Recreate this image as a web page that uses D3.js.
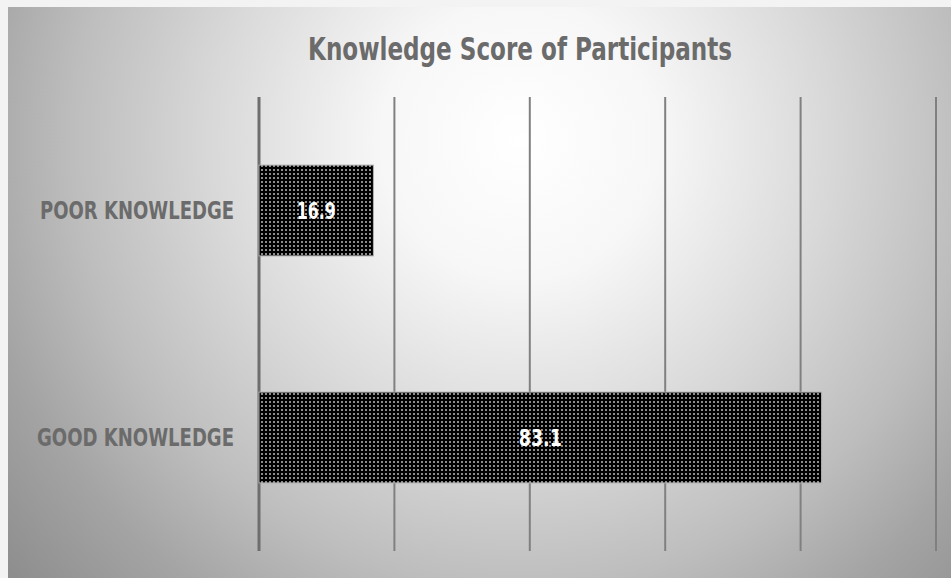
<!DOCTYPE html>
<html>
<head>
<meta charset="utf-8">
<title>Knowledge Score of Participants</title>
<script src="https://cdn.jsdelivr.net/npm/d3@7"></script>
<style>
body { margin: 0; background: #f3f3f3; }
text { font-family: "Liberation Sans Narrow", "DejaVu Sans Condensed", "Roboto", sans-serif; font-weight: bold; }
</style>
</head>
<body>
<script>
  var categories = ["POOR KNOWLEDGE", "GOOD KNOWLEDGE"];
  var scores = [16.9, 83.1];
  var xTicks = [0, 20, 40, 60, 80, 100];
  var title = "Knowledge Score of Participants";

  var width = 951, height = 578;

  var svg = d3.select("body").append("svg")
    .attr("width", width).attr("height", height)
    .style("display", "block");

  var defs = svg.append("defs");

  // background: radial grey gradient, light near the title
  var grad = defs.append("radialGradient")
    .attr("id", "bg")
    .attr("gradientUnits", "userSpaceOnUse")
    .attr("cx", 520).attr("cy", 140).attr("r", 690);
  [[0, "#ffffff"], [0.2, "#f7f7f7"], [0.45, "#d8d8d8"], [0.65, "#bdbdbd"], [0.8, "#a4a4a4"], [1, "#8a8a8a"]]
    .forEach(function(s) {
      grad.append("stop").attr("offset", s[0]).attr("stop-color", s[1]);
    });

  // dotted fill for bars
  var pat = defs.append("pattern")
    .attr("id", "dots")
    .attr("patternUnits", "userSpaceOnUse")
    .attr("width", 4).attr("height", 4);
  pat.append("rect").attr("width", 4).attr("height", 4).attr("fill", "#000");
  pat.append("rect").attr("x", 1).attr("y", 1).attr("width", 2).attr("height", 2).attr("fill", "#8c8c8c");

  svg.append("rect")
    .attr("x", 8).attr("y", 7)
    .attr("width", width - 8).attr("height", height - 7)
    .attr("fill", "url(#bg)");

  var x = d3.scaleLinear().domain([0, 100]).range([259, 936]);
  var y = d3.scaleBand().domain(categories).range([97, 551])
    .paddingInner(0.6).paddingOuter(0.3);

  // gridlines
  svg.append("g").selectAll("line")
    .data(xTicks)
    .enter().append("line")
    .attr("x1", function(d){ return x(d); })
    .attr("x2", function(d){ return x(d); })
    .attr("y1", 97).attr("y2", 551)
    .attr("stroke", function(d){ return d === 0 ? "#6e6e6e" : "#808080"; })
    .attr("stroke-width", function(d){ return d === 0 ? 3 : 2; });

  // bars
  svg.append("g").selectAll("rect")
    .data(scores)
    .enter().append("rect")
    .attr("x", x(0))
    .attr("y", function(d, i){ return y(categories[i]); })
    .attr("width", function(d){ return x(d) - x(0); })
    .attr("height", y.bandwidth())
    .attr("fill", "url(#dots)")
    .attr("stroke", "#b0b0b0")
    .attr("stroke-width", 1);

  // value labels
  svg.append("g").selectAll("text")
    .data(scores)
    .enter().append("text")
    .attr("x", function(d){ return (x(0) + x(d)) / 2; })
    .attr("y", function(d, i){ return y(categories[i]) + y.bandwidth() / 2 + 8; })
    .attr("text-anchor", "middle")
    .attr("fill", "#fff")
    .attr("font-size", 23)
    .attr("textLength", function(d, i){ return i === 0 ? 39 : 43; })
    .attr("lengthAdjust", "spacingAndGlyphs")
    .text(function(d){ return d.toFixed(1); });

  // category labels
  svg.append("g").selectAll("text")
    .data(categories)
    .enter().append("text")
    .attr("x", 234)
    .attr("y", function(d){ return y(d) + y.bandwidth() / 2 + 8; })
    .attr("text-anchor", "end")
    .attr("fill", "#6b6b6b")
    .attr("font-size", 24)
    .attr("textLength", function(d, i){ return i === 0 ? 194 : 197; })
    .attr("lengthAdjust", "spacingAndGlyphs")
    .text(function(d){ return d; });

  svg.append("text")
    .attr("x", 520).attr("y", 60)
    .attr("text-anchor", "middle")
    .attr("fill", "#6b6b6b")
    .attr("font-size", 32)
    .attr("textLength", 424)
    .attr("lengthAdjust", "spacingAndGlyphs")
    .text(title);
</script>
</body>
</html>
